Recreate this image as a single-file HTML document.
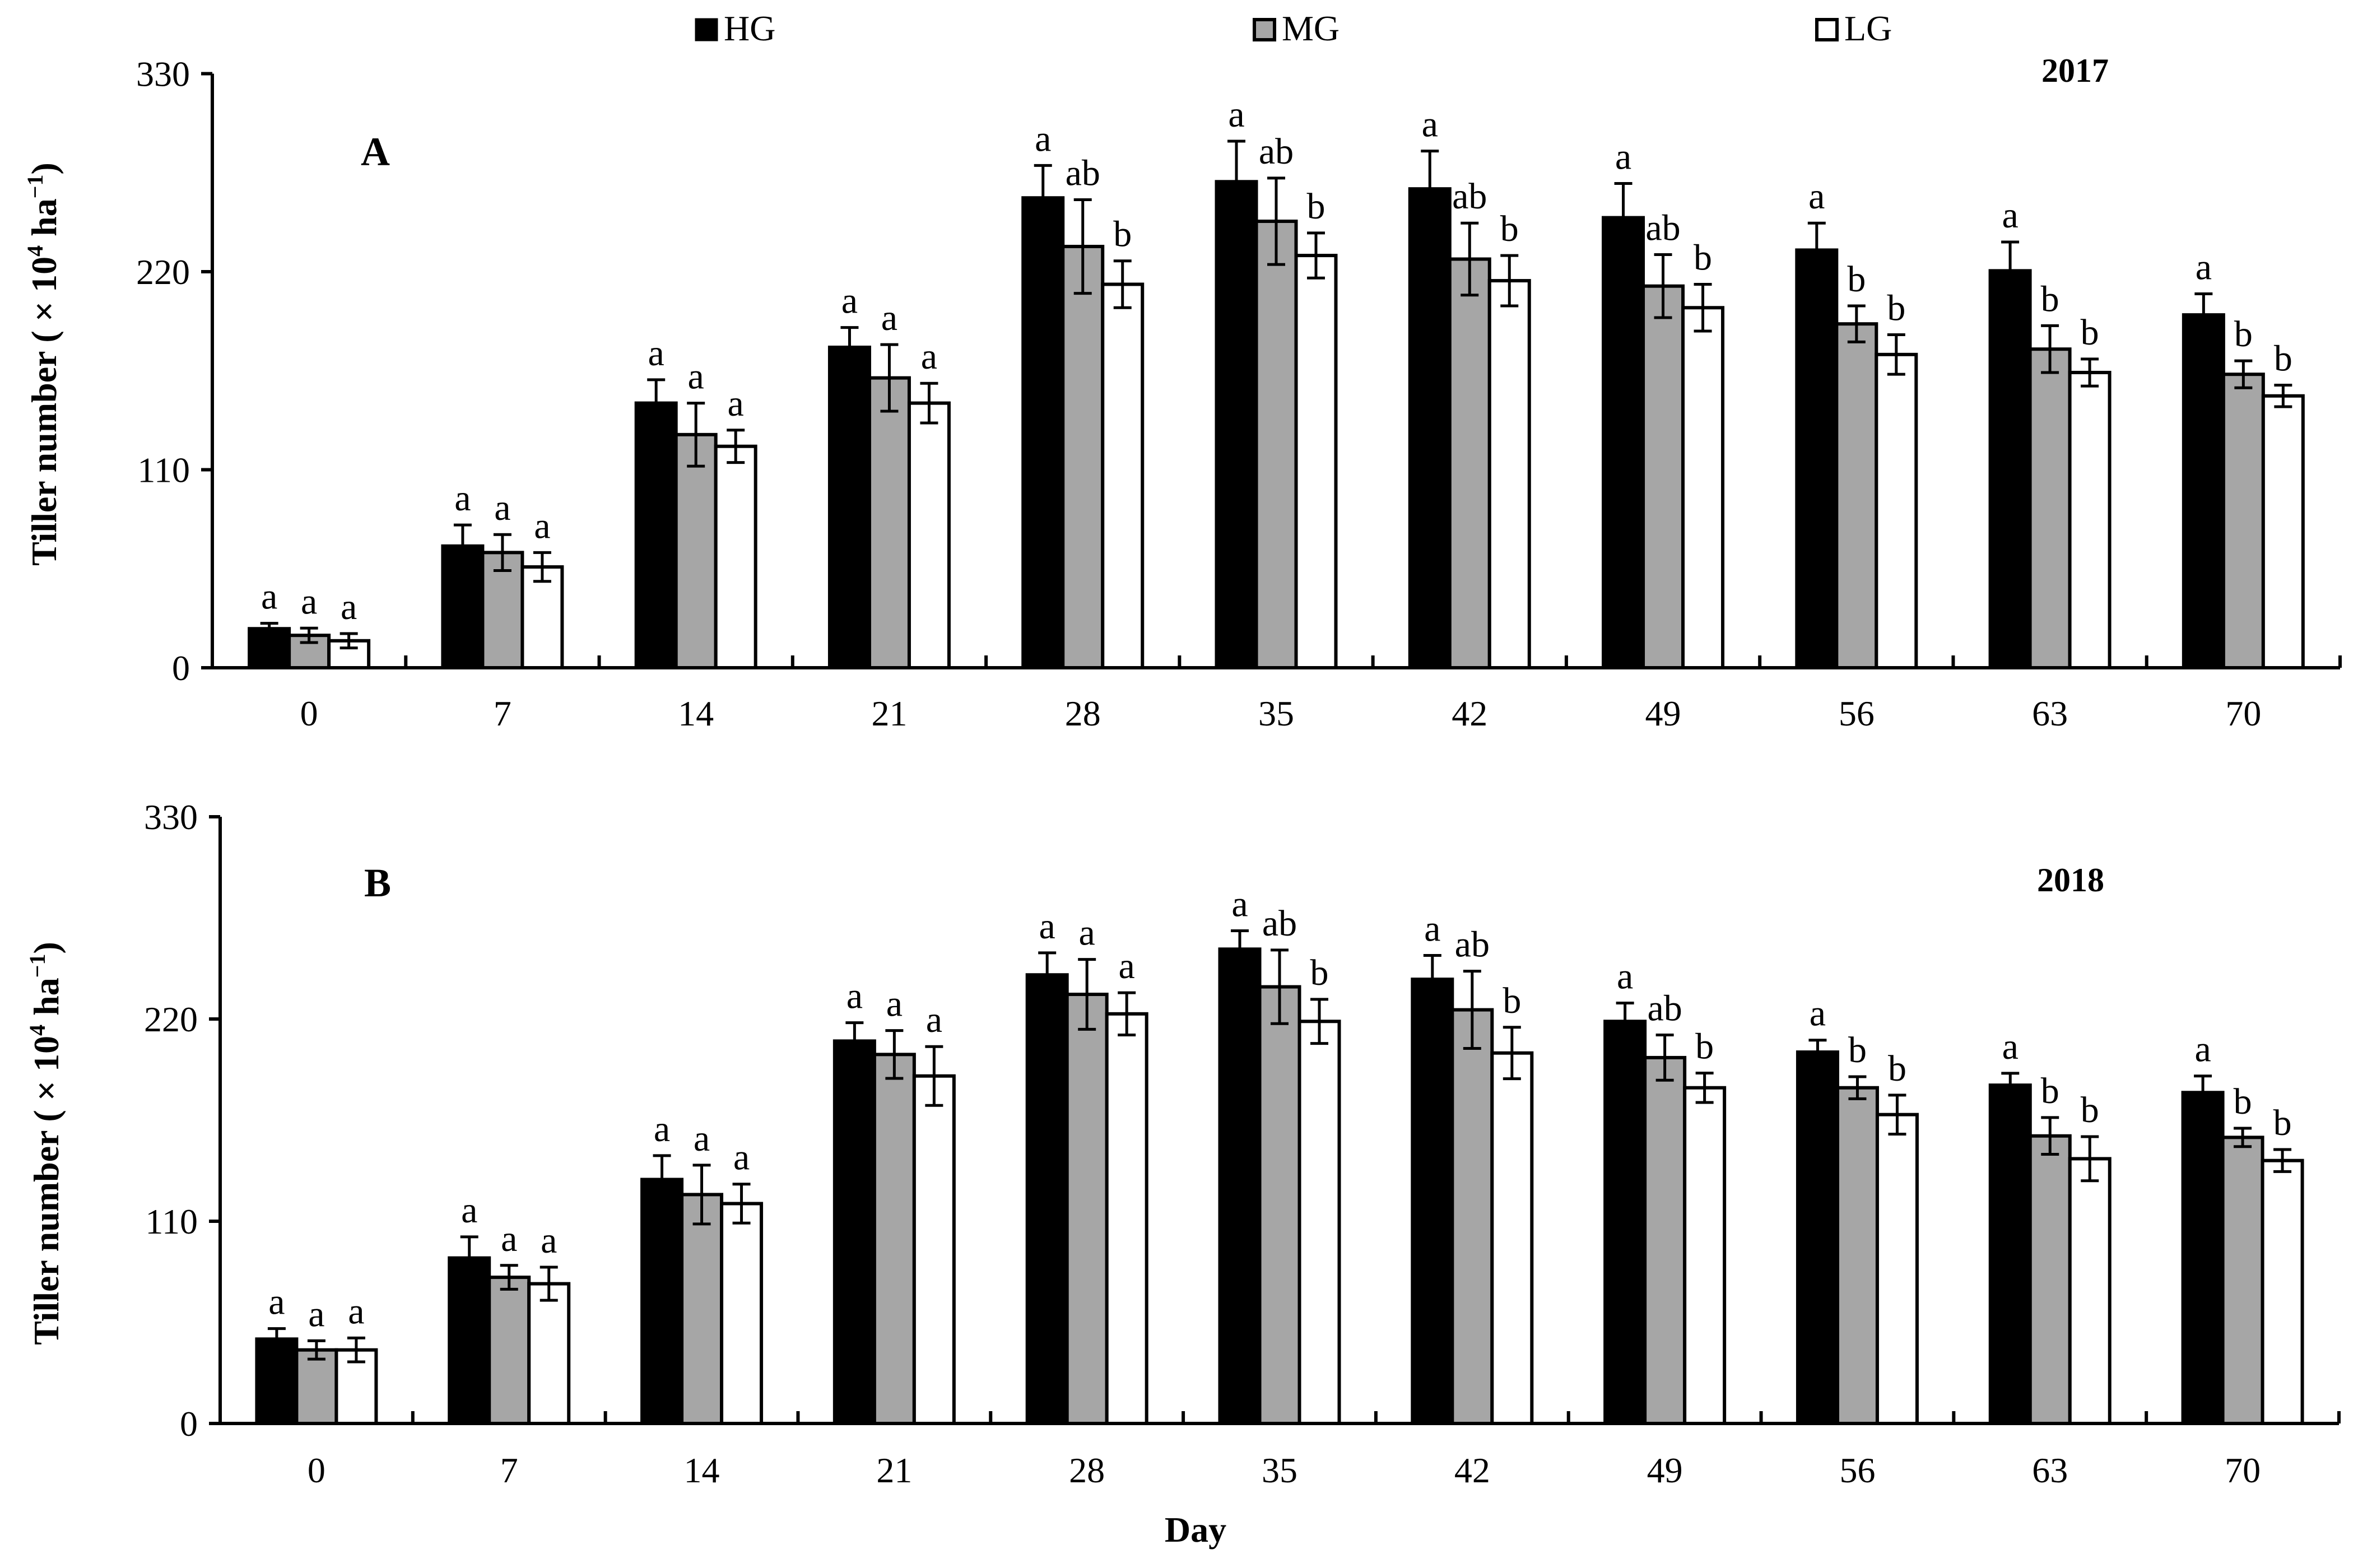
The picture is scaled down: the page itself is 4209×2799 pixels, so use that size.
<!DOCTYPE html>
<html><head><meta charset="utf-8">
<style>
html,body{margin:0;padding:0;background:#fff;}
svg{display:block;font-family:"Liberation Serif","Times New Roman",serif;}
</style></head>
<body>
<svg id="chart" width="4209" height="2799" viewBox="0 0 4209 2799" xmlns="http://www.w3.org/2000/svg">
<rect width="4209" height="2799" fill="#fff"/>
<g>
  <rect x="1243" y="35" width="36" height="36" fill="#000" stroke="#000" stroke-width="5"/>
  <text x="1292" y="72" font-size="64">HG</text>
  <rect x="2239" y="35" width="36" height="36" fill="#a6a6a6" stroke="#000" stroke-width="6"/>
  <text x="2288" y="72" font-size="64">MG</text>
  <rect x="3243" y="35" width="36" height="36" fill="#fff" stroke="#000" stroke-width="6"/>
  <text x="3292" y="72" font-size="64">LG</text>
</g>
<text x="2134" y="2752" font-size="64" font-weight="bold" text-anchor="middle">Day</text>
<g id="panels"></g>
</svg>
<script>
const categories = ["0","7","14","21","28","35","42","49","56","63","70"];
const yTicks = [0,110,220,330];
const seriesNames = ["HG","MG","LG"];
const a_HG = [21.7,67.6,147,178,261,270,266,250,232,220.5,196];
const a_MG = [18,64,129.5,161,234,248,227,212,191,177,163];
const a_LG = [15,56,123,147,213,229,215,200,174,164,151];
const a_HG_err = [3,11.7,13,11,18,22.5,21,19,15,16,11.7];
const a_MG_err = [4,10,17.5,18.5,26,24,20,17.5,10,13,7.5];
const a_LG_err = [4,8,9,11,13,12.5,14,13,11,7.5,6];
const a_HG_sig = ["a","a","a","a","a","a","a","a","a","a","a"];
const a_MG_sig = ["a","a","a","a","ab","ab","ab","ab","b","b","b"];
const a_LG_sig = ["a","a","a","a","b","b","b","b","b","b","b"];
const b_HG = [45.9,90,132.7,208,244,258,241.6,218.7,202,184,180];
const b_MG = [40,79.5,124.5,200.7,233.4,237.5,225,199,182.6,156.4,155.6];
const b_LG = [40,76,119.6,189,222.8,218.7,201.5,182.6,168,144,143];
const b_HG_err = [5.7,11.5,13,10,12,10,13,10,6.5,6.5,9];
const b_MG_err = [5,6.5,16,13,19,20,21,12.3,6,10,5];
const b_LG_err = [6.5,9,10.6,16,11.5,12,14,8,10.6,12,6];
const b_HG_sig = ["a","a","a","a","a","a","a","a","a","a","a"];
const b_MG_sig = ["a","a","a","a","a","ab","ab","ab","b","b","b"];
const b_LG_sig = ["a","a","a","a","a","b","b","b","b","b","b"];

const NS = "http://www.w3.org/2000/svg";
const root = document.getElementById("panels");
function mk(tag, attrs, parent){
  const e = document.createElementNS(NS, tag);
  for (const k in attrs) e.setAttribute(k, attrs[k]);
  parent.appendChild(e);
  return e;
}
const fills = ["#000","#a6a6a6","#fff"];
function drawPanel(cfg){
  const g = mk("g", {}, root);
  
  
  const x0 = cfg.x0, x1 = cfg.x1, y0 = cfg.y0, yTop = cfg.yTop;
  const yScale = v => y0 - (v / 330) * (y0 - yTop);
  const cw = (x1 - x0) / categories.length;
  const bw = 71;
  const ya = mk("line", {x1:x0, y1:yTop, x2:x0, y2:y0, stroke:"#000", "stroke-width":6}, g);
  
  
  yTicks.forEach(t => {
    const y = yScale(t);
    const tk = mk("line", {x1:x0-20, y1:y, x2:x0, y2:y, stroke:"#000", "stroke-width":6}, g);
    
    
    const tl = mk("text", {x:x0-40, y:y+22, "font-size":64, "text-anchor":"end"}, g);
    tl.textContent = t;
    
    
  });
  const yt = mk("text", {x:0, y:0, "font-size":64, "font-weight":"bold", "text-anchor":"middle",
    transform:"translate(" + (cfg.titleX) + "," + cfg.titleY + ") rotate(-90)"}, g);
  yt.innerHTML = 'Tiller number ( × 10<tspan dy="-24" font-size="40">4</tspan><tspan dy="24"> ha</tspan><tspan dy="-24" font-size="40">−1</tspan><tspan dy="24">)</tspan>';
  
  
  categories.forEach((c, i) => {
    const cx = x0 + cw * (i + 0.5);
    for (let s = 0; s < 3; s++){
      const v = cfg.vals[s][i], e = cfg.errs[s][i];
      const bx = cx - 1.5*bw + s*bw;
      const r = mk("rect", {x:bx, y:yScale(v), width:bw, height:y0 - yScale(v), fill:fills[s], stroke:"#000", "stroke-width":6}, g);
      
      
      const mx = bx + bw/2;
      const eg = mk("path", {d:"M"+mx+" "+yScale(v-e)+"V"+yScale(v+e)+"M"+(mx-16)+" "+yScale(v-e)+"H"+(mx+16)+"M"+(mx-16)+" "+yScale(v+e)+"H"+(mx+16), stroke:"#000", "stroke-width":5, fill:"none"}, g);
      
      
      const lt = mk("text", {x:mx, y:yScale(v+e)-26, "font-size":66, "text-anchor":"middle"}, g);
      lt.textContent = cfg.sigs[s][i];
      
      
    }
    const xl = mk("text", {x:cx, y:cfg.labelY, "font-size":64, "text-anchor":"middle"}, g);
    xl.textContent = c;
    
    
  });
  for (let i = 1; i <= categories.length; i++){
    const x = x0 + cw*i;
    const tk = mk("line", {x1:x, y1:y0-22, x2:x, y2:y0, stroke:"#000", "stroke-width":6}, g);
    
    
  }
  const xa = mk("line", {x1:x0-3, y1:y0, x2:x1, y2:y0, stroke:"#000", "stroke-width":6}, g);
  
  
  const pl = mk("text", {x:cfg.letterX, y:cfg.letterY, "font-size":72, "font-weight":"bold", "text-anchor":"middle"}, g);
  pl.textContent = cfg.id.toUpperCase();
  
  
  const yr = mk("text", {x:cfg.yearX, y:cfg.yearY, "font-size":60, "font-weight":"bold", "text-anchor":"middle"}, g);
  yr.textContent = cfg.year;
  
  
}
drawPanel({id:"a", x0:379, x1:4177, y0:1192, yTop:131.5, titleX:100, titleY:650, labelY:1295,
  vals:[a_HG,a_MG,a_LG], errs:[a_HG_err,a_MG_err,a_LG_err], sigs:[a_HG_sig,a_MG_sig,a_LG_sig],
  letterX:670, letterY:295, year:"2017", yearX:3704, yearY:146});
drawPanel({id:"b", x0:393, x1:4175, y0:2541, yTop:1458, titleX:104, titleY:2041, labelY:2646,
  vals:[b_HG,b_MG,b_LG], errs:[b_HG_err,b_MG_err,b_LG_err], sigs:[b_HG_sig,b_MG_sig,b_LG_sig],
  letterX:674, letterY:1600, year:"2018", yearX:3696, yearY:1591});
</script>
</body></html>
